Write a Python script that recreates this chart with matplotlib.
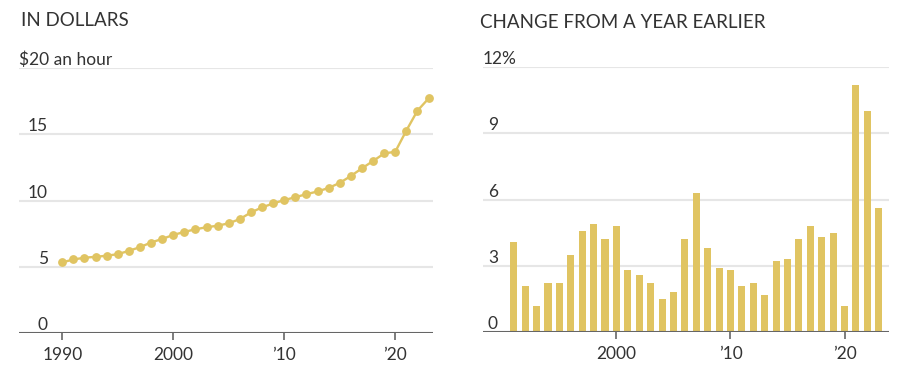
import matplotlib
matplotlib.use("Agg")
import matplotlib.pyplot as plt

plt.rcParams['font.family'] = ['Lato', 'DejaVu Sans']

# ---- data ----
years = list(range(1990, 2024))
wages = [5.33, 5.55, 5.68, 5.75, 5.83, 5.95, 6.20, 6.48, 6.83, 7.10,
         7.40, 7.63, 7.83, 7.98, 8.10, 8.28, 8.60, 9.10, 9.48, 9.78,
         10.03, 10.25, 10.48, 10.68, 10.95, 11.33, 11.85, 12.43, 12.98, 13.55,
         13.68, 15.28, 16.78, 17.70]

chg_years = list(range(1991, 2024))
changes = [4.1, 2.1, 1.2, 2.2, 2.2, 3.5, 4.6, 4.9, 4.2, 4.8,
           2.8, 2.6, 2.2, 1.5, 1.8, 4.2, 6.3, 3.8, 2.9, 2.8,
           2.1, 2.2, 1.7, 3.2, 3.3, 4.2, 4.8, 4.3, 4.5, 1.2,
           11.2, 10.0, 5.6]

left_yticks = [0, 5, 10, 15]
left_ytop_label = "$20 an hour"
right_yticks = [0, 3, 6, 9]
right_ytop_label = "12%"
left_xticks = [1990, 2000, 2010, 2020]
left_xlabels = ["1990", "2000", "\u201910", "\u201920"]
right_xticks = [2000, 2010, 2020]
right_xlabels = ["2000", "\u201910", "\u201920"]

GOLD = "#e0c462"
GRID = "#e6e6e6"
TXT = "#333333"
BASE = "#666666"
FS = 12.5

fig = plt.figure(figsize=(9.10, 3.78), dpi=100)
fig.patch.set_facecolor("white")

ax1 = fig.add_axes([19/910, 1-333/378, (433-19)/910, (333-68)/378])
ax2 = fig.add_axes([483/910, 1-332/378, (889-483)/910, (332-67.3)/378])

def style(ax, ymax, yticks, xticks, xlabels, label_x, ha):
    ax.set_ylim(0, ymax)
    for s in ax.spines.values():
        s.set_visible(False)
    for v in yticks[1:] + [ymax]:
        ax.axhline(v, color=GRID, lw=1.5, zorder=0)
    ax.axhline(0, color=BASE, lw=1.5, zorder=3)
    ax.set_yticks([])
    ax.set_xticks(xticks)
    ax.set_xticklabels(xlabels, fontsize=FS, color=TXT)
    ax.tick_params(axis='x', length=5, width=1.2, color=BASE, pad=5)
    for v in yticks:
        ax.text(label_x, v, str(v), transform=ax.get_yaxis_transform(),
                ha=ha, va='bottom', fontsize=FS, color=TXT)

# left chart
ax1.plot(years, wages, color=GOLD, lw=1.7, marker='o', ms=5.3, zorder=4, clip_on=False)
ax1.set_xlim(1986.1, 2023.4)
style(ax1, 20, left_yticks, left_xticks, left_xlabels, 29/414, 'right')
ax1.text(0, 20, left_ytop_label, transform=ax1.get_yaxis_transform(),
         ha='left', va='bottom', fontsize=FS, color=TXT)
fig.text(21/910, 1-20/378, "IN DOLLARS", ha='left', va='center', fontsize=13.5, color=TXT)

# right chart
ax2.bar(chg_years, changes, width=0.62, color=GOLD, zorder=2)
ax2.set_xlim(1988.3, 2023.9)
style(ax2, 12, right_yticks, right_xticks, right_xlabels, 5/406, 'left')
ax2.text(0, 12, right_ytop_label, transform=ax2.get_yaxis_transform(),
         ha='left', va='bottom', fontsize=FS, color=TXT)
fig.text(480/910, 1-22/378, "CHANGE FROM A YEAR EARLIER", ha='left', va='center', fontsize=13.5, color=TXT)

fig.savefig("out.png", dpi=100, facecolor="white")
